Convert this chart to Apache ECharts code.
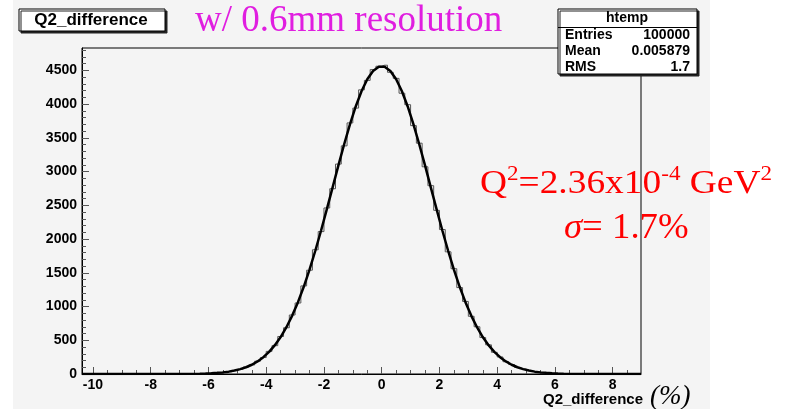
<!DOCTYPE html>
<html>
<head>
<meta charset="utf-8">
<script src="https://cdn.jsdelivr.net/npm/echarts@6/dist/echarts.min.js"></script>
<style>
  html, body { margin: 0; padding: 0; background: #fff; }
  #chart { width: 790px; height: 409px; }
</style>
</head>
<body>
<div id="chart"></div>
<script>
// histogram bin centres (%), counts
const binCenters = [-6.3, -6.1, -5.9, -5.7, -5.5, -5.3, -5.1, -4.9, -4.7, -4.5, -4.3, -4.1, -3.9, -3.7, -3.5, -3.3,
  -3.1, -2.9, -2.7, -2.5, -2.3, -2.1, -1.9, -1.7, -1.5, -1.3, -1.1, -0.9, -0.7, -0.5, -0.3, -0.1,
  0.1, 0.3, 0.5, 0.7, 0.9, 1.1, 1.3, 1.5, 1.7, 1.9, 2.1, 2.3, 2.5, 2.7, 2.9, 3.1,
  3.3, 3.5, 3.7, 3.9, 4.1, 4.3, 4.5, 4.7, 4.9, 5.1, 5.3, 5.5, 5.7, 5.9, 6.1, 6.3];
const histCounts = [0, 6, 12, 15, 26, 33, 53, 70, 103, 134, 190, 244, 335, 420, 556, 685,
  874, 1052, 1305, 1538, 1840, 2110, 2460, 2745, 3110, 3380, 3720, 3940, 4210, 4350, 4510, 4560,
  4575, 4470, 4380, 4160, 3990, 3680, 3420, 3070, 2790, 2425, 2140, 1810, 1560, 1280, 1075, 855,
  700, 540, 432, 322, 252, 182, 140, 97, 74, 49, 37, 23, 16, 10, 8, 0];
// gaussian fit curve as drawn
const fitCounts = [5, 7, 11, 17, 24, 35, 51, 72, 100, 137, 186, 249, 328, 427, 548, 693,
  865, 1064, 1292, 1547, 1826, 2126, 2442, 2766, 3090, 3404, 3699, 3964, 4189, 4367, 4490, 4552,
  4552, 4490, 4367, 4189, 3964, 3699, 3404, 3090, 2766, 2442, 2126, 1826, 1547, 1292, 1064, 865,
  693, 548, 427, 328, 249, 186, 137, 100, 72, 51, 35, 24, 17, 11, 7, 5];

const xMin = -10.38, xMax = 8.98, yMax = 4830;
const xMajorTicks = [-10, -8, -6, -4, -2, 0, 2, 4, 6, 8];
const xMinorTicks = [-10, -9.5, -9, -8.5, -8, -7.5, -7, -6.5, -6, -5.5, -5, -4.5, -4, -3.5, -3, -2.5, -2, -1.5, -1, -0.5,
  0, 0.5, 1, 1.5, 2, 2.5, 3, 3.5, 4, 4.5, 5, 5.5, 6, 6.5, 7, 7.5, 8, 8.5];
const yMajorTicks = [0, 500, 1000, 1500, 2000, 2500, 3000, 3500, 4000, 4500];
const yMinorTicks = [0, 100, 200, 300, 400, 500, 600, 700, 800, 900, 1000, 1100, 1200, 1300, 1400, 1500, 1600,
  1700, 1800, 1900, 2000, 2100, 2200, 2300, 2400, 2500, 2600, 2700, 2800, 2900, 3000, 3100, 3200, 3300,
  3400, 3500, 3600, 3700, 3800, 3900, 4000, 4100, 4200, 4300, 4400, 4500, 4600, 4700, 4800];
const statsTitle = 'htemp';
const statsNames = ['Entries', 'Mean', 'RMS'];
const statsValues = ['100000', '0.005879', '1.7'];

const histData = [[xMin, 0]].concat(binCenters.map((x, i) => [x, histCounts[i]]), [[xMax, 0]]);
const fitData = [[xMin, 0]].concat(binCenters.map((x, i) => [x, fitCounts[i]]), [[xMax, 0]]);

const sans = 'Liberation Sans';
const serif = 'Liberation Serif';
const labelFont = { fontFamily: sans, fontWeight: 'bold', fontSize: 14, color: '#000' };
const tickColor = '#555';
const red = '#ff0000';

const statsText = [];
statsNames.forEach((name, i) => {
  statsText.push({
    type: 'text', x: 565, y: 35 + i * 16.3, z: 101,
    style: { text: name, fontFamily: sans, fontWeight: 'bold', fontSize: 14, fill: '#000', verticalAlign: 'middle' }
  });
  statsText.push({
    type: 'text', x: 690, y: 35 + i * 16.3, z: 101,
    style: { text: statsValues[i], fontFamily: sans, fontWeight: 'bold', fontSize: 14, fill: '#000', align: 'right', verticalAlign: 'middle' }
  });
});

const chart = echarts.init(document.getElementById('chart'));
chart.setOption({
  animation: false,
  backgroundColor: '#fff',
  grid: { left: 82, right: 149, top: 48, bottom: 35, show: true, borderColor: '#000', borderWidth: 1, backgroundColor: 'transparent' },
  xAxis: [
    {
      type: 'value', min: xMin, max: xMax, position: 'bottom',
      axisLine: { show: true, onZero: false, lineStyle: { color: '#000', width: 1 } },
      axisTick: { show: true, inside: true, length: 7, customValues: xMajorTicks, lineStyle: { color: tickColor } },
      axisLabel: Object.assign({ customValues: xMajorTicks, margin: 4, formatter: (v) => String(v) }, labelFont),
      splitLine: { show: false }
    },
    {
      type: 'value', min: xMin, max: xMax, position: 'bottom',
      axisLine: { show: false, onZero: false },
      axisTick: { show: true, inside: true, length: 4, customValues: xMinorTicks, lineStyle: { color: tickColor } },
      axisLabel: { show: false },
      splitLine: { show: false }
    }
  ],
  yAxis: [
    {
      type: 'value', min: 0, max: yMax, position: 'left',
      axisLine: { show: true, onZero: false, lineStyle: { color: '#000', width: 1 } },
      axisTick: { show: true, inside: true, length: 7, customValues: yMajorTicks, lineStyle: { color: tickColor } },
      axisLabel: Object.assign({ customValues: yMajorTicks, margin: 5, formatter: (v) => String(v) }, labelFont),
      splitLine: { show: false }
    },
    {
      type: 'value', min: 0, max: yMax, position: 'left',
      axisLine: { show: false, onZero: false },
      axisTick: { show: true, inside: true, length: 4, customValues: yMinorTicks, lineStyle: { color: tickColor } },
      axisLabel: { show: false },
      splitLine: { show: false }
    }
  ],
  series: [
    {
      name: 'htemp', type: 'line', step: 'middle', data: histData, symbol: 'none',
      lineStyle: { color: '#555', width: 1 }, z: 2
    },
    {
      name: 'fit', type: 'line', data: fitData, symbol: 'none',
      lineStyle: { color: '#000', width: 2.5 }, z: 3
    }
  ],
  graphic: [
    { type: 'rect', z: -10, silent: true, shape: { x: 13, y: 0, width: 697, height: 409 }, style: { fill: '#f4f4f4' } },
    // title box
    { type: 'rect', z: 100, shape: { x: 19, y: 9, width: 146, height: 22 },
      style: { fill: '#fff', stroke: '#000', lineWidth: 1, shadowColor: '#222', shadowOffsetX: 2, shadowOffsetY: 2, shadowBlur: 0 } },
    { type: 'text', z: 101, x: 91, y: 20.5,
      style: { text: 'Q2_difference', fontFamily: sans, fontWeight: 'bold', fontSize: 17, fill: '#000', align: 'center', verticalAlign: 'middle' } },
    { type: 'text', z: 101, x: 195, y: 21,
      style: { text: 'w/ 0.6mm resolution', fontFamily: serif, fontSize: 37, fill: '#e01ee0', verticalAlign: 'middle' } },
    // stats box
    { type: 'rect', z: 100, shape: { x: 558, y: 9, width: 139, height: 65 },
      style: { fill: '#fff', stroke: '#000', lineWidth: 1, shadowColor: '#222', shadowOffsetX: 2, shadowOffsetY: 2, shadowBlur: 0 } },
    { type: 'line', z: 101, shape: { x1: 558, y1: 27.5, x2: 697, y2: 27.5 }, style: { stroke: '#000', lineWidth: 1 } },
    { type: 'text', z: 101, x: 627, y: 18.5,
      style: { text: statsTitle, fontFamily: sans, fontWeight: 'bold', fontSize: 14, fill: '#000', align: 'center', verticalAlign: 'middle' } },
    ...statsText,
    // axis title
    { type: 'text', z: 101, x: 643, y: 400,
      style: { text: 'Q2_difference', fontFamily: sans, fontWeight: 'bold', fontSize: 15, fill: '#000', align: 'right', verticalAlign: 'middle' } },
    { type: 'text', z: 101, x: 650, y: 397,
      style: { text: '(%)', fontFamily: serif, fontStyle: 'italic', fontSize: 27, fill: '#000', verticalAlign: 'middle' } },
    // annotation
    { type: 'text', z: 101, x: 480, y: 184, scaleX: 1.1,
      style: {
        text: '{n|Q}{s|2}{n|=2.36x10}{s|-4}{n| GeV}{s|2}',
        verticalAlign: 'middle',
        rich: {
          n: { fontFamily: serif, fontSize: 34, fill: red, lineHeight: 40 },
          s: { fontFamily: serif, fontSize: 21, fill: red, lineHeight: 40, verticalAlign: 'top' }
        }
      } },
    { type: 'text', z: 101, x: 564, y: 229, scaleX: 1.05,
      style: {
        text: '{i|σ}{n|= 1.7%}',
        verticalAlign: 'middle',
        rich: {
          i: { fontFamily: serif, fontStyle: 'italic', fontSize: 35, fill: red },
          n: { fontFamily: serif, fontSize: 35, fill: red }
        }
      } }
  ]
});
</script>
</body>
</html>
